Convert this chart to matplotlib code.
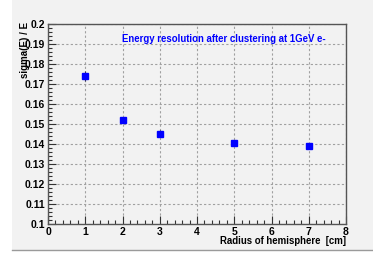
import matplotlib
matplotlib.use("Agg")
import matplotlib.pyplot as plt
from matplotlib.patches import Rectangle
from matplotlib.ticker import MultipleLocator

radius = [1, 2, 3, 5, 7]
resolution = [0.1738, 0.1520, 0.1452, 0.1404, 0.1390]
resolution_err = [0.0025, 0.0014, 0.0017, 0.0013, 0.0017]

title = "Energy resolution after clustering at 1GeV e-"
xlabel = "Radius of hemisphere  [cm]"
ylabel = "sigma(E) / E"

plt.rcParams['font.family'] = ['Liberation Sans', 'DejaVu Sans']

fig = plt.figure(figsize=(3.73, 2.56), dpi=100, facecolor='white')
# canvas pad (ROOT style grey)
fig.add_artist(Rectangle((12 / 373, 6 / 256), 1 - 12 / 373, 1 - 6 / 256,
                         transform=fig.transFigure, facecolor='#f2f2f2',
                         edgecolor='none', zorder=-5))
fig.add_artist(plt.Line2D([12 / 373, 1], [6 / 256, 6 / 256], transform=fig.transFigure,
                          color='#9a9a9a', lw=1.0, zorder=-4))

ax = fig.add_axes([48 / 373, 32 / 256, 298 / 373, 200 / 256])
ax.set_facecolor('#f2f2f2')
ax.set_xlim(0, 8)
ax.set_ylim(0.1, 0.2)

ax.errorbar(radius, resolution, yerr=resolution_err, fmt='s', color='#0000ff',
            ms=3.8, ecolor='#303050', elinewidth=0.8, capsize=0, zorder=3)

ax.xaxis.set_minor_locator(MultipleLocator(0.2))
ax.yaxis.set_minor_locator(MultipleLocator(0.002))
ax.set_xticks(range(0, 9))
ax.set_xticklabels([str(i) for i in range(0, 9)])
yt = [round(0.1 + 0.01 * i, 2) for i in range(11)]
ax.set_yticks(yt)
ax.set_yticklabels(['0.1'] + ['%.2f' % v for v in yt[1:-1]] + ['0.2'])

ax.tick_params(which='major', direction='in', length=6, width=0.8, color='#333333',
               labelsize=7.5, pad=2)
ax.tick_params(which='minor', direction='in', length=3, width=0.8, color='#333333')
for lab in ax.get_xticklabels() + ax.get_yticklabels():
    lab.set_fontweight('bold')

ax.grid(True, which='major', linestyle=(0, (2, 2)), color='#a0a0a0', lw=0.8)
for s in ax.spines.values():
    s.set_color('#555555')
    s.set_linewidth(1.0)

ax.text(0.93, 0.925, title, transform=ax.transAxes, ha='right', va='center',
        color='#0000ff', fontsize=6.9, fontweight='bold')
fig.text(346 / 373, 1 - 241 / 256, xlabel, ha='right', va='center',
         fontsize=6.9, fontweight='bold')
fig.text(25 / 373, 1 - 22 / 256, ylabel, ha='center', va='top', rotation=90,
         fontsize=7.0, fontweight='bold')

fig.savefig('out.png', dpi=100, facecolor=fig.get_facecolor())
